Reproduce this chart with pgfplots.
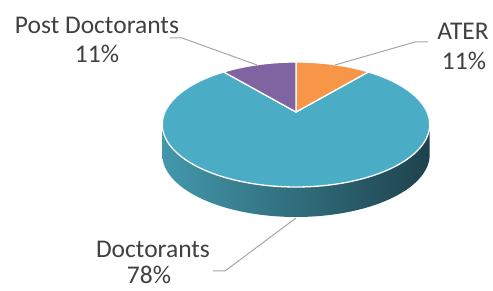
\documentclass[border=0pt]{standalone}
\usepackage{pgfplots}
\pgfplotsset{compat=1.18}
\usepackage{pgfplotstable}
\usepackage{fontspec}
\setmainfont{Carlito}
\definecolor{cTeal}{HTML}{4BACC6}
\definecolor{cOrange}{HTML}{F79646}
\definecolor{cPurple}{HTML}{8064A2}
\definecolor{cSideL}{HTML}{4398AC}
\definecolor{cSideR}{HTML}{1E424C}
\definecolor{cLead}{HTML}{A6A6A6}
\definecolor{cText}{HTML}{404040}
\newcommand\lbl{\fontsize{25.5bp}{30bp}\selectfont}
\pgfplotstableread{
label value
ATER 11
Doctorants 78
PostDoctorants 11
}\piedata
\begin{document}
\begin{tikzpicture}
\pgfplotstablegetelem{0}{value}\of\piedata \pgfmathsetmacro\va{\pgfplotsretval}
\pgfplotstablegetelem{1}{value}\of\piedata \pgfmathsetmacro\vb{\pgfplotsretval}
\pgfplotstablegetelem{2}{value}\of\piedata \pgfmathsetmacro\vc{\pgfplotsretval}
\pgfmathsetmacro\tot{\va+\vb+\vc}
\pgfmathsetmacro\aA{90}
\pgfmathsetmacro\aB{\aA-360*(\va/\tot)}
\pgfmathsetmacro\aC{\aB-360*(\vb/\tot)}
\pgfmathsetmacro\aD{\aC-360*(\vc/\tot)}
\begin{axis}[hide axis, scale only axis, width=493bp, height=291bp,
  xmin=0, xmax=493, ymin=0, ymax=291,
  declare function={
    px(\t)=296+131*cos(\t)/(1+0.2*sin(\t));
    py(\t)=179+60*sin(\t)/(1+0.2*sin(\t));
    sx(\t)=ifthenelse(\t<1, px(191.54+156.92*\t), px(348.46-156.92*(\t-1)));
    sy(\t)=ifthenelse(\t<1, py(191.54+156.92*\t), py(348.46-156.92*(\t-1))-30);
  }]
% side of the pie
\addplot[draw=none, left color=cSideL, right color=cSideR, domain=0:2, samples=201] ({sx(x)},{sy(x)}) -- cycle;
% top slices
\addplot[fill=cTeal, draw=white, line width=1.3bp, line join=round, domain=\aC:\aB, samples=200] ({px(x)},{py(x)}) -- (axis cs:296,179) -- cycle;
\addplot[fill=cOrange, draw=white, line width=1.3bp, line join=round, domain=\aB:\aA, samples=40] ({px(x)},{py(x)}) -- (axis cs:296,179) -- cycle;
\addplot[fill=cPurple, draw=white, line width=1.3bp, line join=round, domain=\aD:\aC, samples=40] ({px(x)},{py(x)}) -- (axis cs:296,179) -- cycle;
% leader lines
\addplot[cLead, line width=1bp] coordinates {(170,253) (182,253) (257,226)};
\addplot[cLead, line width=1bp] coordinates {(335,226) (415,249) (428,249)};
\addplot[cLead, line width=1bp] coordinates {(296,73) (225,20) (213,20)};
% labels
\node[anchor=base, inner sep=0pt, text=cText, font=\lbl] at (axis cs:97,257.7) {Post Doctorants};
\node[anchor=base, inner sep=0pt, text=cText, font=\lbl] at (axis cs:97,228) {11\%};
\node[anchor=base, inner sep=0pt, text=cText, font=\lbl] at (axis cs:463,251) {ATER};
\node[anchor=base, inner sep=0pt, text=cText, font=\lbl] at (axis cs:464,221) {11\%};
\node[anchor=base, inner sep=0pt, text=cText, font=\lbl] at (axis cs:153,33.5) {Doctorants};
\node[anchor=base, inner sep=0pt, text=cText, font=\lbl] at (axis cs:149,7.5) {78\%};
\end{axis}
\pgfresetboundingbox
\useasboundingbox (current axis.south west) rectangle (current axis.north east);
\end{tikzpicture}
\end{document}
